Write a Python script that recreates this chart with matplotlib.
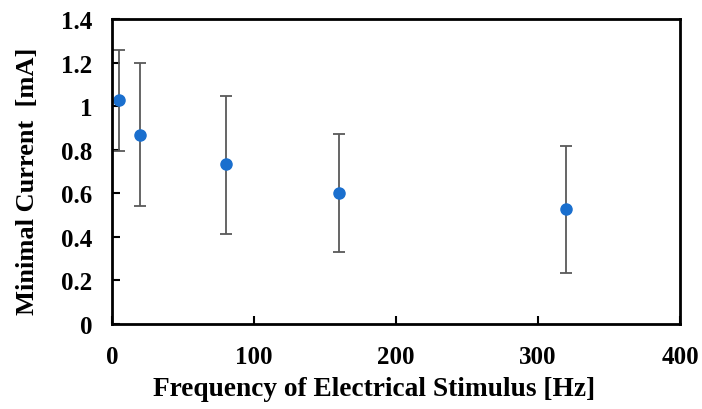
import numpy as np
import matplotlib.pyplot as plt

plt.rcParams['font.family'] = ['Liberation Serif', 'DejaVu Serif']
plt.rcParams['font.weight'] = 'bold'

# Frequency [Hz] vs minimal current [mA]
freq = [5, 20, 80, 160, 320]
current = [1.028, 0.869, 0.734, 0.600, 0.526]
err_low = [0.793, 0.540, 0.414, 0.329, 0.233]
err_high = [1.259, 1.196, 1.048, 0.870, 0.815]

yerr = [np.array(current) - np.array(err_low), np.array(err_high) - np.array(current)]

fig = plt.figure(figsize=(7.02, 4.10), dpi=100)
ax = fig.add_axes([112 / 702, 85 / 410, 568 / 702, 305 / 410])

ax.errorbar(freq, current, yerr=yerr, fmt='o', color='#1a6fce', markersize=8,
            ecolor='#595959', elinewidth=1.3, capsize=4, capthick=1.3)

ax.set_xlim(0, 400)
ax.set_ylim(0, 1.4)
ax.set_xticks([0, 100, 200, 300, 400])
ax.set_yticks(np.arange(0, 1.41, 0.2))
ax.set_yticklabels(['0', '0.2', '0.4', '0.6', '0.8', '1', '1.2', '1.4'])
ax.tick_params(direction='in', length=6, width=1.5, labelsize=18)
ax.tick_params(axis='x', pad=15)
ax.tick_params(axis='y', pad=14)
for s in ax.spines.values():
    s.set_linewidth(2)

ax.set_xlabel('Frequency of Electrical Stimulus [Hz]', fontsize=19.7, fontweight='bold')
ax.set_ylabel('Minimal Current  [mA]', fontsize=19, fontweight='bold')
ax.xaxis.set_label_coords(0.462, -0.17)
ax.yaxis.set_label_coords(-0.128, 0.472)

fig.savefig('out.png', dpi=100)
